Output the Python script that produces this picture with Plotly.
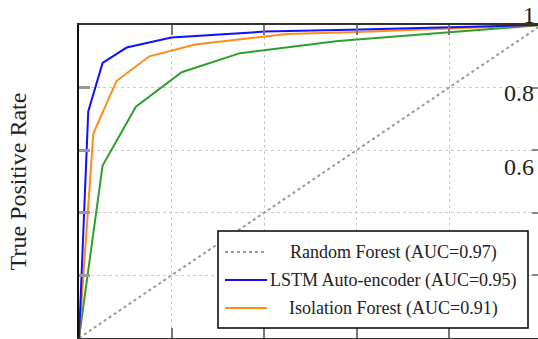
import plotly.graph_objects as go

# ROC curve data (False Positive Rate, True Positive Rate)
blue_fpr = [0.0, 0.020, 0.051, 0.103, 0.200, 0.402, 0.586, 1.0]
blue_tpr = [0.0, 0.724, 0.879, 0.928, 0.960, 0.979, 0.985, 1.0]

orange_fpr = [0.0, 0.031, 0.081, 0.152, 0.251, 0.402, 0.449, 0.586, 1.0]
orange_tpr = [0.0, 0.653, 0.821, 0.900, 0.938, 0.963, 0.971, 0.977, 1.0]

green_fpr = [0.0, 0.051, 0.123, 0.222, 0.348, 0.560, 1.0]
green_tpr = [0.0, 0.551, 0.739, 0.849, 0.910, 0.949, 1.0]

diag_fpr = [0.0, 1.0]
diag_tpr = [0.0, 1.0]

legend_labels = ["Random Forest (AUC=0.97)", "LSTM Auto-encoder (AUC=0.95)", "Isolation Forest (AUC=0.91)"]
legend_colors = ["#9a9a9a", "#1010ff", "#ff8c1a"]
legend_dashes = ["3px,3px", "solid", "solid"]

right_labels = ["1", "0.8", "0.6"]

FONT = "Liberation Serif"

fig = go.Figure()
fig.add_trace(go.Scatter(x=diag_fpr, y=diag_tpr, mode="lines",
                         line=dict(color="#9a9a9a", width=2, dash="3px,3px"), showlegend=False))
fig.add_trace(go.Scatter(x=green_fpr, y=green_tpr, mode="lines",
                         line=dict(color="#2ca02c", width=2), showlegend=False))
fig.add_trace(go.Scatter(x=orange_fpr, y=orange_tpr, mode="lines",
                         line=dict(color="#ff8c1a", width=2), showlegend=False))
fig.add_trace(go.Scatter(x=blue_fpr, y=blue_tpr, mode="lines",
                         line=dict(color="#1010ff", width=2), showlegend=False))
# invisible trace to activate right axis ticks
fig.add_trace(go.Scatter(x=[0], y=[0], yaxis="y2", mode="markers",
                         marker=dict(opacity=0), showlegend=False, hoverinfo="skip"))

W, H = 538, 339
L, R, T, B = 79, 0, 25, 1
pw, ph = W - L - R, H - T - B


def px(x):
    return (x - L) / pw


def py(y):
    return (H - B - y) / ph


shapes = [dict(type="rect", xref="paper", yref="paper",
               x0=px(218), x1=px(528), y0=py(328), y1=py(231),
               fillcolor="white", line=dict(color="black", width=1.5), layer="above")]
annotations = []
rows = [252, 280, 308]
for lab, col, dsh, ry in zip(legend_labels, legend_colors, legend_dashes, rows):
    shapes.append(dict(type="line", xref="paper", yref="paper",
                       x0=px(225), x1=px(267), y0=py(ry), y1=py(ry),
                       line=dict(color=col, width=2, dash=dsh), layer="above"))
    annotations.append(dict(text=lab, xref="paper", yref="paper", x=px(393), y=py(ry),
                            xanchor="center", yanchor="middle", showarrow=False,
                            font=dict(family=FONT, size=18, color="#222")))

for lab, (cx, cy) in zip(right_labels, [(528.5, 15.5), (519, 93), (519, 167)]):
    annotations.append(dict(text=lab, xref="paper", yref="paper", x=px(cx), y=py(cy),
                            xanchor="center", yanchor="middle", showarrow=False,
                            font=dict(family=FONT, size=24, color="#222")))

fig.update_layout(
    width=W, height=H, autosize=False,
    margin=dict(l=L, r=R, t=T, b=B, pad=0),
    paper_bgcolor="white", plot_bgcolor="white",
    shapes=shapes, annotations=annotations,
    xaxis=dict(range=[0, pw / 462.5], dtick=0.2, tick0=0, showticklabels=False,
               showgrid=True, gridcolor="#cccccc", griddash="dot", gridwidth=1,
               zeroline=False, showline=True, linecolor="#333", linewidth=2,
               mirror="ticks", ticks="inside", ticklen=10, tickwidth=2, tickcolor="#777"),
    yaxis=dict(range=[0, 1], dtick=0.2, tick0=0, showticklabels=False,
               showgrid=True, gridcolor="#cccccc", griddash="dot", gridwidth=1,
               zeroline=False, showline=True, linecolor="#111", linewidth=2,
               ticks="inside", ticklen=11, tickwidth=3, tickcolor="#999",
               title=dict(text="True Positive Rate", standoff=44,
                          font=dict(family=FONT, size=24, color="#222"))),
    yaxis2=dict(range=[0, 1], dtick=0.2, tick0=0, overlaying="y", side="right",
                showticklabels=False, showgrid=False, zeroline=False, showline=False,
                ticks="inside", ticklen=6, tickwidth=1.5, tickcolor="#888"),
)

fig.write_html("out.html", config={"displayModeBar": False},
               post_script="document.body.style.margin='0';document.body.style.overflow='hidden';")
